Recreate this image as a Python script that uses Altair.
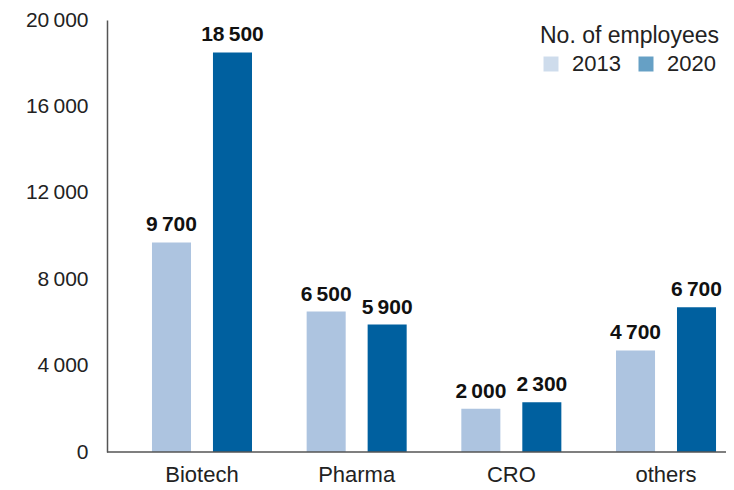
import altair as alt
import pandas as pd

categories = ["Biotech", "Pharma", "CRO", "others"]
years = ["2013", "2020"]
values_2013 = [9700, 6500, 2000, 4700]
values_2020 = [18500, 5900, 2300, 6700]
y_ticks = [0, 4000, 8000, 12000, 16000, 20000]
colors = ["#adc4e0", "#00609f"]

rows = []
for c, a, b in zip(categories, values_2013, values_2020):
    rows.append({"category": c, "year": "2013", "value": a})
    rows.append({"category": c, "year": "2020", "value": b})
df = pd.DataFrame(rows)

FONT = "Liberation Sans"

x_enc = alt.X(
    "category:N",
    sort=categories,
    scale=alt.Scale(range=[17.65, 636.35], paddingInner=0, paddingOuter=0),
    axis=alt.Axis(title=None, domain=False, ticks=False, labelAngle=0,
                  labelFontSize=22, labelPadding=29, labelBaseline="alphabetic",
                  labelColor="#222", labelFont=FONT),
)
xoff_enc = alt.XOffset("year:N", sort=years,
                       scale=alt.Scale(paddingInner=0.36, paddingOuter=0.448))
y_enc = alt.Y(
    "value:Q",
    scale=alt.Scale(domain=[0, 20000], nice=False),
    axis=alt.Axis(title=None, values=y_ticks, grid=False, ticks=False,
                  domainColor="#555", domainWidth=1.5, labelPadding=19,
                  labelFontSize=21, labelColor="#222", labelFont=FONT,
                  labelExpr="replace(format(datum.value, ',d'), ',', '\u2009')"),
)

base = alt.Chart(df)

bars = base.mark_bar().encode(
    x=x_enc,
    xOffset=xoff_enc,
    y=y_enc,
    color=alt.Color(
        "year:N",
        sort=years,
        scale=alt.Scale(domain=years, range=colors),
        legend=alt.Legend(
            title="No. of employees", orient="none", direction="horizontal",
            legendX=433, legendY=5, titleFontSize=23, titleFontWeight="normal",
            titleColor="#222", titleFont=FONT, titleLimit=400, labelFont=FONT,
            labelFontSize=22, labelColor="#222", symbolType="square",
            symbolSize=225, symbolOpacity=0.6, symbolStrokeWidth=0,
            labelOffset=10, columnPadding=14, titlePadding=5,
        ),
    ),
)

labels = base.mark_text(
    dy=-11, baseline="alphabetic", fontWeight="bold", fontSize=21,
    font=FONT, color="#111"
).transform_calculate(
    label="replace(format(datum.value, ',d'), ',', '\u2009')"
).encode(
    x=alt.X("category:N", sort=categories),
    xOffset=alt.XOffset("year:N", sort=years),
    y="value:Q",
    text="label:N",
)

axis_line = alt.Chart(pd.DataFrame({"v": [0]})).mark_rule(
    color="#555", strokeWidth=1.5
).encode(y="v:Q", x=alt.value(0), x2=alt.value(619))

chart = alt.layer(bars, labels, axis_line).properties(
    width=619, height=432,
    padding={"left": 99, "top": 12, "right": 0, "bottom": 36},
    autosize=alt.AutoSizeParams(type="none"),
).configure_view(stroke=None)

chart.save("out.html", embed_options={"renderer": "svg", "actions": False})
